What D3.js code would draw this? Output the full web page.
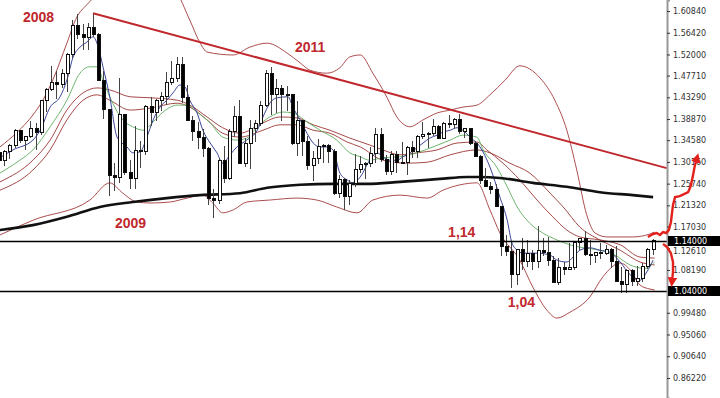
<!DOCTYPE html>
<html>
<head>
<meta charset="utf-8">
<script src="https://cdn.jsdelivr.net/npm/d3@7"></script>
<style>
  body { margin: 0; background: #fff; }
  svg { display: block; font-family: "Liberation Sans", Arial, sans-serif; }
</style>
</head>
<body>
<div id="chart"></div>
<script>
// monthly candles, first one = Jan 2007, last one = Jun 2017
const opens = [
  1.3200,1.3040,1.3230,1.3355,1.3650,1.3455,1.3530,1.3690,1.3615,1.4260,1.4480,1.4630,
  1.4590,1.4820,1.5190,1.5785,1.5600,1.5550,1.5750,1.5615,1.4675,1.4090,1.2730,1.2690,
  1.3970,1.2800,1.2670,1.3250,1.3230,1.4150,1.4030,1.4255,1.4340,1.4640,1.4715,1.5000,
  1.4320,1.3865,1.3625,1.3510,1.3290,1.2275,1.2230,1.3050,1.2685,1.3630,1.3945,1.2985,
  1.3380,1.3690,1.3800,1.4160,1.4810,1.4395,1.4500,1.4390,1.4380,1.3390,1.3860,1.3440,
  1.2940,1.3080,1.3320,1.3340,1.3235,1.2365,1.2665,1.2305,1.2580,1.2860,1.2955,1.2980,
  1.3195,1.3580,1.3060,1.2815,1.3170,1.2995,1.3010,1.3300,1.3220,1.3525,1.3580,1.3590,
  1.3745,1.3485,1.3805,1.3770,1.3870,1.3635,1.3690,1.3390,1.3130,1.2630,1.2525,1.2450,
  1.2100,1.1290,1.1195,1.0730,1.1225,1.0990,1.1150,1.0985,1.1215,1.1175,1.1005,1.0565,
  1.0860,1.0830,1.0875,1.1380,1.1455,1.1130,1.1105,1.1175,1.1160,1.1240,1.0985,1.0590,
  1.0520,1.0800,1.0575,1.0650,1.0895,1.1240
];
const highs = [
  1.3220,1.3260,1.3370,1.3680,1.3660,1.3550,1.3850,1.3800,1.4280,1.4525,1.4965,1.4860,
  1.4900,1.5240,1.5905,1.6020,1.5810,1.5840,1.6040,1.5630,1.4865,1.4100,1.3000,1.4720,
  1.4000,1.3050,1.3740,1.3440,1.4180,1.4340,1.4305,1.4445,1.4845,1.5060,1.5145,1.5145,
  1.4580,1.3955,1.3820,1.3690,1.3325,1.2465,1.3105,1.3335,1.3680,1.4160,1.4280,1.3500,
  1.3860,1.3860,1.4250,1.4880,1.4940,1.4700,1.4580,1.4550,1.4390,1.4245,1.3870,1.3550,
  1.3235,1.3485,1.3385,1.3385,1.3285,1.2750,1.2690,1.2640,1.3170,1.3140,1.3020,1.3310,
  1.3710,1.3710,1.3160,1.3245,1.3240,1.3415,1.3345,1.3450,1.3570,1.3830,1.3620,1.3895,
  1.3775,1.3825,1.3965,1.3905,1.3995,1.3700,1.3700,1.3445,1.3150,1.2885,1.2605,1.2570,
  1.2105,1.1535,1.1385,1.1245,1.1465,1.1435,1.1215,1.1715,1.1460,1.1495,1.1095,1.1060,
  1.0990,1.1375,1.1390,1.1465,1.1615,1.1425,1.1185,1.1365,1.1325,1.1255,1.1300,1.0875,
  1.0830,1.0830,1.0905,1.0950,1.1270,1.1445
];
const lows = [
  1.2865,1.2930,1.3080,1.3300,1.3410,1.3265,1.3510,1.3260,1.3570,1.4030,1.4450,1.4305,
  1.4510,1.4445,1.5130,1.5510,1.5285,1.5300,1.5550,1.4660,1.3880,1.2330,1.2420,1.2580,
  1.2755,1.2455,1.2455,1.2890,1.3160,1.3745,1.3850,1.4045,1.4180,1.4585,1.4645,1.4220,
  1.3860,1.3445,1.3270,1.3115,1.2145,1.1875,1.2155,1.2590,1.2650,1.3530,1.2965,1.2905,
  1.2870,1.3430,1.3750,1.4140,1.3970,1.4010,1.3840,1.4050,1.3360,1.3145,1.3145,1.2860,
  1.2625,1.2975,1.3000,1.3000,1.2335,1.2285,1.2040,1.2130,1.2500,1.2800,1.2660,1.2920,
  1.3000,1.3020,1.2745,1.2750,1.2795,1.2990,1.2755,1.3105,1.3105,1.3480,1.3295,1.3545,
  1.3480,1.3475,1.3705,1.3675,1.3590,1.3500,1.3365,1.3120,1.2570,1.2500,1.2360,1.2100,
  1.1100,1.1100,1.0460,1.0520,1.0820,1.0885,1.0810,1.0850,1.1105,1.0895,1.0560,1.0520,
  1.0710,1.0810,1.0820,1.1215,1.1100,1.0910,1.0950,1.1045,1.1120,1.0850,1.0570,1.0350,
  1.0340,1.0495,1.0495,1.0570,1.0840,1.1120
];
const closes = [
  1.3040,1.3230,1.3355,1.3650,1.3455,1.3530,1.3690,1.3615,1.4260,1.4480,1.4630,1.4590,
  1.4820,1.5190,1.5785,1.5600,1.5550,1.5750,1.5615,1.4675,1.4090,1.2730,1.2690,1.3970,
  1.2800,1.2670,1.3250,1.3230,1.4150,1.4030,1.4255,1.4340,1.4640,1.4715,1.5000,1.4320,
  1.3865,1.3625,1.3510,1.3290,1.2275,1.2230,1.3050,1.2685,1.3630,1.3945,1.2985,1.3380,
  1.3690,1.3800,1.4160,1.4810,1.4395,1.4500,1.4390,1.4380,1.3390,1.3860,1.3440,1.2940,
  1.3080,1.3320,1.3340,1.3235,1.2365,1.2665,1.2305,1.2580,1.2860,1.2955,1.2980,1.3195,
  1.3580,1.3060,1.2815,1.3170,1.2995,1.3010,1.3300,1.3220,1.3525,1.3580,1.3590,1.3745,
  1.3485,1.3805,1.3770,1.3870,1.3635,1.3690,1.3390,1.3130,1.2630,1.2525,1.2450,1.2100,
  1.1290,1.1195,1.0730,1.1225,1.0990,1.1150,1.0985,1.1215,1.1175,1.1005,1.0565,1.0860,
  1.0830,1.0875,1.1380,1.1455,1.1130,1.1105,1.1175,1.1160,1.1240,1.0985,1.0590,1.0520,
  1.0800,1.0575,1.0650,1.0895,1.1240,1.1425
];

// indicator lines as [candle index, price]
const fastMA = [[0.2,1.310],[2.7,1.326],[6.5,1.346],[7.9,1.366],[9.8,1.413],[11.7,1.434],[13.0,1.468],[14.2,1.515],[15.5,1.535],[16.8,1.545],[18.0,1.556],[19.0,1.535],[19.9,1.495],[21.2,1.434],[22.6,1.352],[24.5,1.332],[25.6,1.320],[27.0,1.322],[28.3,1.352],[29.5,1.387],[30.8,1.413],[32.1,1.427],[33.3,1.442],[34.6,1.458],[35.6,1.454],[36.5,1.427],[37.9,1.401],[39.0,1.366],[40.4,1.340],[41.7,1.320],[42.8,1.299],[44.2,1.316],[45.5,1.332],[47.4,1.346],[49.4,1.366],[50.5,1.393],[51.8,1.421],[53.2,1.432],[55.3,1.434],[56.2,1.413],[57.6,1.387],[58.9,1.360],[60.1,1.340],[61.4,1.332],[62.7,1.332],[63.9,1.326],[65.2,1.279],[66.6,1.265],[67.7,1.259],[69.1,1.271],[70.9,1.305],[72.3,1.320],[73.4,1.312],[74.8,1.305],[76.1,1.305],[77.3,1.312],[78.6,1.320],[79.9,1.330],[81.1,1.340],[82.4,1.350],[83.8,1.356],[84.9,1.362],[86.3,1.366],[87.6,1.371],[88.7,1.366],[90.1,1.352],[92.0,1.332],[93.9,1.291],[95.8,1.230],[97.2,1.183],[98.1,1.137],[99.1,1.122],[100.2,1.116],[102.9,1.116],[105.4,1.112],[106.7,1.102],[108.6,1.098],[109.8,1.108],[111.1,1.122],[113.0,1.127],[114.9,1.122],[116.8,1.118],[118.8,1.098],[120.7,1.072],[122.6,1.061],[123.9,1.078],[125.1,1.102]];
const midMA = [[0.2,1.279],[4.0,1.305],[6.5,1.326],[9.8,1.373],[13.0,1.427],[15.5,1.482],[17.4,1.495],[18.8,1.495],[19.9,1.468],[21.2,1.434],[23.7,1.387],[25.6,1.373],[27.6,1.366],[29.5,1.383],[31.4,1.403],[34.1,1.417],[36.0,1.417],[37.9,1.403],[40.4,1.381],[42.8,1.352],[45.5,1.346],[47.4,1.350],[49.4,1.373],[51.8,1.393],[54.3,1.403],[56.2,1.401],[58.9,1.383],[61.4,1.366],[64.6,1.346],[67.1,1.320],[69.1,1.312],[70.9,1.305],[73.4,1.310],[76.7,1.312],[79.9,1.320],[83.0,1.332],[86.3,1.346],[88.7,1.356],[91.4,1.352],[92.6,1.326],[95.2,1.291],[97.2,1.251],[99.1,1.210],[101.5,1.177],[104.0,1.157],[106.7,1.143],[109.2,1.133],[111.7,1.127],[114.9,1.122],[117.8,1.112],[120.7,1.092],[123.5,1.085],[125.4,1.098]];
const slowMA1 = [[0.2,1.261],[6.5,1.305],[9.8,1.346],[13.0,1.407],[16.1,1.442],[18.8,1.452],[21.2,1.448],[25.1,1.434],[28.9,1.432],[34.1,1.427],[36.5,1.417],[39.8,1.393],[42.8,1.371],[46.1,1.360],[50.5,1.381],[53.7,1.393],[57.0,1.391],[60.1,1.377],[63.3,1.366],[67.1,1.350],[70.9,1.336],[73.4,1.326],[76.7,1.316],[79.9,1.320],[83.8,1.326],[87.6,1.340],[91.4,1.342],[93.3,1.326],[96.4,1.299],[99.6,1.265],[102.9,1.224],[105.9,1.190],[108.6,1.163],[111.1,1.149],[114.9,1.143],[118.8,1.133],[122.6,1.108],[125.4,1.106]];
const slowMA2 = [[0.2,1.244],[6.5,1.285],[9.8,1.326],[13.0,1.387],[16.1,1.427],[18.8,1.438],[21.2,1.427],[25.1,1.407],[28.9,1.411],[34.1,1.421],[36.5,1.413],[39.8,1.387],[42.8,1.360],[46.1,1.352],[50.5,1.366],[53.7,1.377],[57.0,1.377],[60.1,1.366],[63.3,1.360],[66.6,1.342],[69.1,1.332],[73.4,1.305],[78.0,1.299],[81.9,1.301],[86.3,1.316],[91.4,1.326],[93.9,1.320],[97.7,1.299],[101.5,1.279],[105.4,1.238],[107.9,1.210],[111.1,1.169],[114.9,1.143],[118.8,1.122],[122.6,1.098],[125.4,1.092]];
const bandUpper = [[0.2,1.332],[3.5,1.362],[6.5,1.397],[8.4,1.427],[10.3,1.468],[13.0,1.543],[14.9,1.596],[16.8,1.621],[19.3,1.647],[27.0,1.692],[33.7,1.651],[36.5,1.590],[38.5,1.543],[39.8,1.525],[44.8,1.519],[48.0,1.535],[51.3,1.543],[55.1,1.523],[57.6,1.503],[59.5,1.488],[62.7,1.482],[65.2,1.493],[67.1,1.515],[69.1,1.519],[71.5,1.482],[74.2,1.433],[76.1,1.393],[78.6,1.373],[81.1,1.387],[83.8,1.401],[86.3,1.407],[88.7,1.413],[91.4,1.417],[93.9,1.438],[96.8,1.468],[99.6,1.497],[103.5,1.472],[106.3,1.427],[108.6,1.366],[110.5,1.285],[112.4,1.194],[114.0,1.157],[116.3,1.149],[121.2,1.149],[124.5,1.155],[125.4,1.159]];
const bandLower = [[0.2,1.153],[6.5,1.183],[17.4,1.224],[21.2,1.259],[23.7,1.238],[26.4,1.220],[28.9,1.218],[32.7,1.220],[36.0,1.228],[39.0,1.234],[40.9,1.218],[42.8,1.198],[44.8,1.204],[47.4,1.220],[51.8,1.224],[57.0,1.228],[60.8,1.224],[64.6,1.210],[68.5,1.198],[71.5,1.224],[76.7,1.234],[81.9,1.228],[84.9,1.244],[88.2,1.255],[91.4,1.259],[93.9,1.204],[95.8,1.157],[99.6,1.102],[102.1,1.047],[104.8,1.000],[106.7,0.984],[109.2,0.996],[113.0,1.027],[115.5,1.068],[118.8,1.096],[120.7,1.082],[122.6,1.051],[124.5,1.043],[125.4,1.041]];
const longMA = [[0.2,1.163],[6.5,1.173],[13.0,1.190],[19.3,1.210],[25.6,1.220],[32.1,1.228],[38.5,1.234],[46.1,1.238],[51.3,1.249],[57.6,1.255],[63.9,1.257],[70.4,1.257],[76.7,1.261],[84.3,1.267],[89.5,1.271],[92.0,1.271],[95.8,1.269],[102.1,1.259],[108.6,1.251],[114.9,1.240],[121.2,1.234],[125.1,1.230]];

const trendLine = [[18, 1.604], [127.7, 1.289]];
const levels = [1.14, 1.04];
const priceTicks = [1.6084,1.5642,1.52,1.4771,1.4329,1.3887,1.3458,1.3016,1.2574,1.2132,1.1703,1.1261,1.0819,0.9948,0.9506,0.9064,0.8622];
const notes = [
  {text: "2008", i: 4.6, v: 1.586},
  {text: "2009", i: 22.2, v: 1.167},
  {text: "2011", i: 56.6, v: 1.525},
  {text: "1,14", i: 85.9, v: 1.149},
  {text: "1,04", i: 97.3, v: 1.007}
];
// hand-drawn forecast arrows
const arrowUp = [[124.1,1.149],[125.1,1.155],[125.8,1.157],[126.4,1.153],[127.0,1.159],[127.6,1.157],[128.1,1.163],[128.5,1.179],[128.9,1.214],[129.3,1.230],[130.2,1.232],[131.0,1.236],[131.8,1.240],[132.3,1.253],[132.7,1.273],[133.1,1.295],[133.5,1.310]];
const arrowDown = [[127.0,1.135],[127.8,1.128],[128.5,1.116],[128.9,1.098],[128.9,1.078],[128.7,1.057]];

const W = 720, H = 398, axisX = 667;

const svg = d3.select("#chart").append("svg")
  .attr("width", W).attr("height", H);

const x = d3.scaleLinear().domain([0, 125]).range([-1.1, 652.6]);
const y = d3.scaleLinear().domain([0.8215, 1.6308]).range([H, 0]);

const defs = svg.append("defs");
defs.append("clipPath").attr("id", "plot")
  .append("rect").attr("x", 0).attr("y", 0).attr("width", axisX).attr("height", H);
defs.append("marker").attr("id", "head")
  .attr("viewBox", "0 0 10 10").attr("refX", 5).attr("refY", 5)
  .attr("markerWidth", 4).attr("markerHeight", 4).attr("orient", "auto")
  .append("path").attr("d", "M0,0 L10,5 L0,10 z").attr("fill", "#e3211c");

const plot = svg.append("g").attr("clip-path", "url(#plot)");
const line = d3.line().x(d => x(d[0])).y(d => y(d[1])).curve(d3.curveMonotoneX);

// bands and averages
const lineStyles = [
  [bandUpper, "#a2393b", 0.9],
  [bandLower, "#a2393b", 0.9],
  [slowMA1, "#9a3533", 0.9],
  [slowMA2, "#9a3533", 0.9],
  [midMA, "#5fae5f", 0.9],
  [fastMA, "#25308a", 0.9]
];
lineStyles.forEach(([data, color, w]) => {
  plot.append("path").datum(data)
    .attr("d", line).attr("fill", "none")
    .attr("stroke", color).attr("stroke-width", w);
});

plot.append("path").datum(longMA)
  .attr("d", line).attr("fill", "none")
  .attr("stroke", "#111").attr("stroke-width", 2.6);

// candles
const idx = d3.range(opens.length);
const candles = plot.append("g").attr("shape-rendering", "crispEdges");
candles.selectAll("line.wick").data(idx).join("line")
  .attr("class", "wick")
  .attr("x1", i => Math.round(x(i)) + 0.5).attr("x2", i => Math.round(x(i)) + 0.5)
  .attr("y1", i => y(highs[i])).attr("y2", i => y(lows[i]))
  .attr("stroke", "#444").attr("stroke-width", 1);
candles.selectAll("rect.body").data(idx).join("rect")
  .attr("class", "body")
  .attr("x", i => Math.round(x(i)) - 1)
  .attr("width", 3)
  .attr("y", i => y(Math.max(opens[i], closes[i])))
  .attr("height", i => Math.max(1, Math.abs(y(opens[i]) - y(closes[i]))))
  .attr("fill", i => closes[i] >= opens[i] ? "#fff" : "#000")
  .attr("stroke", "#111").attr("stroke-width", 1);

// trend line and levels
plot.append("path").datum(trendLine)
  .attr("d", d3.line().x(d => x(d[0])).y(d => y(d[1])))
  .attr("stroke", "#c0282d").attr("stroke-width", 2).attr("fill", "none");

svg.selectAll("line.level").data(levels).join("line")
  .attr("class", "level")
  .attr("x1", 0).attr("x2", axisX)
  .attr("y1", d => Math.round(y(d)) + 0.5).attr("y2", d => Math.round(y(d)) + 0.5)
  .attr("stroke", "#000").attr("stroke-width", 1.4);

// right price axis
const axis = svg.append("g").attr("transform", `translate(${axisX},0)`)
  .call(d3.axisRight(y).tickValues(priceTicks).tickFormat(d3.format(".5f")).tickSize(3).tickPadding(3));
axis.select(".domain").attr("stroke", "#999").attr("stroke-width", 2);
axis.selectAll(".tick line").attr("stroke", "#333");
axis.selectAll("text").attr("fill", "#333").attr("font-size", 8)
  .attr("font-family", "'DejaVu Sans', sans-serif");
// the label right under the 1.14 tag sits a little lower so both stay readable
axis.selectAll(".tick text").filter(d => d === 1.1261).attr("dy", "0.32em").attr("y", 3);

const tags = svg.selectAll("g.tag").data(levels).join("g")
  .attr("class", "tag").attr("transform", d => `translate(${axisX + 1},${Math.round(y(d))})`);
tags.append("rect").attr("x", 0).attr("y", -5).attr("width", 52).attr("height", 10).attr("fill", "#000");
tags.append("text").attr("x", 6).attr("y", 3).attr("fill", "#fff")
  .attr("font-size", 8).attr("font-family", "'DejaVu Sans', sans-serif")
  .text(d => d3.format(".5f")(d));

// annotations
svg.selectAll("text.note").data(notes).join("text")
  .attr("class", "note")
  .attr("x", d => x(d.i)).attr("y", d => y(d.v))
  .attr("fill", "#c0282d").attr("font-size", 14).attr("font-weight", "bold")
  .text(d => d.text);

[arrowUp, arrowDown].forEach(pts => {
  svg.append("path").datum(pts)
    .attr("d", d3.line().x(d => x(d[0])).y(d => y(d[1])))
    .attr("fill", "none").attr("stroke", "#e3211c").attr("stroke-width", 2.4)
    .attr("marker-end", "url(#head)");
});
</script>
</body>
</html>
